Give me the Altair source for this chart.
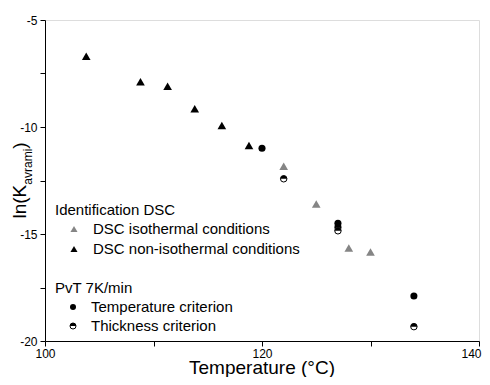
import altair as alt
import pandas as pd
import numpy as np

# ---- data ----
iso_T = [122, 125, 128, 130]
iso_lnK = [-11.83, -13.60, -15.66, -15.84]
noniso_T = [103.8, 108.8, 111.3, 113.8, 116.3, 118.8]
noniso_lnK = [-6.69, -7.88, -8.10, -9.15, -9.93, -10.86]
temp_T = [120, 127, 127, 134]
temp_lnK = [-10.99, -14.50, -14.68, -17.90]
thick_T = [122, 127, 134]
thick_lnK = [-12.42, -14.85, -19.33]

x_ticks = [100, 110, 120, 130, 140]
y_ticks = [-20, -17.5, -15, -12.5, -10, -7.5, -5]

FONT = "Liberation Sans"
GRAY = "#858585"

# half-filled circle (top half black) as a custom symbol path
t = np.linspace(np.pi, 0, 19)
half_path = "M-1,0" + "".join(f"L{np.cos(a):.3f},{-np.sin(a):.3f}" for a in t) + "Z"

def axis_x():
    return alt.Axis(values=x_ticks, labelExpr="datum.value % 20 == 0 ? '' + datum.value : ''",
                    labelOffset={"condition": {"test": "datum.value == 140", "value": -8}, "value": 0},
                    title=None, grid=False, domainColor="black", tickColor="black", tickSize=5,
                    labelFont=FONT, labelFontSize=12, labelColor="black", labelPadding=2,
                    labelFlush=False, labelOverlap=False, domainWidth=1, tickWidth=1)

def axis_y():
    return alt.Axis(values=y_ticks, labelExpr="datum.value % 5 == 0 ? '' + datum.value : ''",
                    title=None, grid=False, domainColor="black", tickColor="black", tickSize=5,
                    labelFont=FONT, labelFontSize=12, labelColor="black", labelPadding=3,
                    labelFlush=False, labelOverlap=False, domainWidth=1, tickWidth=1)

X = alt.X("T:Q", scale=alt.Scale(domain=[100, 140], nice=False, zero=False), axis=axis_x())
Y = alt.Y("lnK:Q", scale=alt.Scale(domain=[-20, -5], nice=False, zero=False), axis=axis_y())

df_iso = pd.DataFrame({"T": iso_T, "lnK": iso_lnK})
df_non = pd.DataFrame({"T": noniso_T, "lnK": noniso_lnK})
df_temp = pd.DataFrame({"T": temp_T, "lnK": temp_lnK})
df_thick = pd.DataFrame({"T": thick_T, "lnK": thick_lnK})

non = alt.Chart(df_non).mark_point(shape="triangle-up", filled=True, color="black",
                                   size=75, opacity=1).encode(x=X, y=Y)
iso = alt.Chart(df_iso).mark_point(shape="triangle-up", filled=True, color=GRAY,
                                   size=75, opacity=1).encode(x=X, y=Y)
temp = alt.Chart(df_temp).mark_point(shape="circle", filled=True, color="black",
                                     size=50, opacity=1).encode(x=X, y=Y)
thick_bg = alt.Chart(df_thick).mark_point(shape="circle", fill="white", stroke="black",
                                          strokeWidth=1, size=42, opacity=1,
                                          fillOpacity=1).encode(x=X, y=Y)
thick_top = alt.Chart(df_thick).mark_point(shape=half_path, filled=True, color="black",
                                           size=42, opacity=1).encode(x=X, y=Y)

one = alt.Data(values=[{}])

def txt(s, x, y, size=15, align="left", baseline="middle", angle=0):
    kw = dict(text=s, font=FONT, fontSize=size, color="black", align=align, baseline=baseline)
    if angle:
        kw["angle"] = angle
    return alt.Chart(one).mark_text(**kw).encode(x=alt.value(x), y=alt.value(y))

def sym(shape, x, y, size, **kw):
    return alt.Chart(one).mark_point(shape=shape, size=size, opacity=1, **kw).encode(
        x=alt.value(x), y=alt.value(y))

legend = [
    txt("Identification DSC", 10, 190),
    sym("triangle-up", 29, 209, 50, filled=True, color=GRAY),
    txt("DSC isothermal conditions", 48, 209),
    sym("triangle-up", 29, 229, 50, filled=True, color="black"),
    txt("DSC non-isothermal conditions", 48, 229),
    txt("PvT 7K/min", 10, 268),
    sym("circle", 28, 287, 36, filled=True, color="black"),
    txt("Temperature criterion", 46, 287),
    sym("circle", 28, 306, 36, fill="white", stroke="black", strokeWidth=1, fillOpacity=1),
    sym(half_path, 28, 306, 36, filled=True, color="black"),
    txt("Thickness criterion", 46, 306),
]

titles = [
    txt("Temperature (°C)", 217, 353.5, size=19, align="center", baseline="alphabetic"),
    txt("ln(K", -19.5, 198.5, size=19, align="left", baseline="alphabetic", angle=270),
    txt("avrami", -13.5, 164.7, size=12, align="left", baseline="alphabetic", angle=270),
    txt(")", -19.5, 128.7, size=19, align="left", baseline="alphabetic", angle=270),
]

chart = alt.layer(non, iso, temp, thick_bg, thick_top, *legend, *titles).properties(
    width=434, height=321,
    padding={"left": 37, "top": 12, "right": 3, "bottom": 36},
    autosize=alt.AutoSizeParams(type="none"),
).configure_view(stroke=None).configure(background="white")

chart.save("out.html", embed_options={"renderer": "svg", "actions": False})
